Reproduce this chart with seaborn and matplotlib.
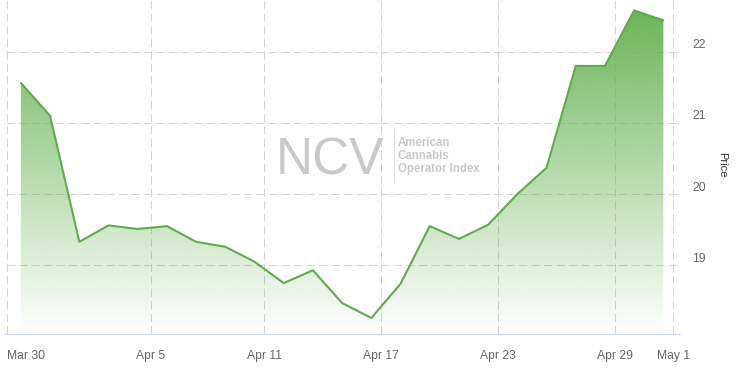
import numpy as np
import pandas as pd
import matplotlib
matplotlib.use("Agg")
import matplotlib.pyplot as plt
import seaborn as sns
from matplotlib.colors import to_rgb
from matplotlib.transforms import ScaledTranslation

# ---------------- data ----------------
dates = ["2020-03-30", "2020-03-31", "2020-04-01", "2020-04-02", "2020-04-03",
         "2020-04-06", "2020-04-07", "2020-04-08", "2020-04-09",
         "2020-04-13", "2020-04-14", "2020-04-15", "2020-04-16", "2020-04-17",
         "2020-04-20", "2020-04-21", "2020-04-22", "2020-04-23", "2020-04-24",
         "2020-04-27", "2020-04-28", "2020-04-29", "2020-04-30"]
prices = [21.56, 21.10, 19.33, 19.56, 19.51,
          19.55, 19.33, 19.26, 19.05,
          18.75, 18.93, 18.47, 18.26, 18.74,
          19.55, 19.37, 19.57, 20.00, 20.37,
          21.80, 21.80, 22.58, 22.44]
tick_dates = ["2020-03-30", "2020-04-05", "2020-04-11", "2020-04-17",
              "2020-04-23", "2020-04-29", "2020-05-01"]
tick_labels = ["Mar 30", "Apr 5", "Apr 11", "Apr 17", "Apr 23", "Apr 29", "May 1"]
y_ticks = [19, 20, 21, 22]

# ---------------- style ----------------
sns.set_style("white")
plt.rcParams["font.family"] = ["Liberation Sans", "DejaVu Sans"]

W, H, DPI = 743, 370, 100
fig = plt.figure(figsize=(W / DPI, H / DPI), dpi=DPI)
# plot area in pixels: left 6, right 680, top 0, bottom 334
ax = fig.add_axes([6 / W, (H - 334) / H, (680 - 6) / W, 334 / H])

# ordinal x-axis (trading days only), points stamped at 16:00
idx = np.arange(len(dates))
pt_t = (pd.to_datetime(dates) + pd.Timedelta(hours=16)).values.astype("datetime64[h]").astype(float) / 24.0
tk_t = pd.to_datetime(tick_dates).values.astype("datetime64[h]").astype(float) / 24.0
mean_step = (pt_t[-1] - pt_t[0]) / (len(pt_t) - 1)
tick_pos = np.interp(tk_t, pt_t, idx)
tick_pos = np.where(tk_t < pt_t[0], (tk_t - pt_t[0]) / mean_step, tick_pos)
tick_pos = np.where(tk_t > pt_t[-1], idx[-1] + (tk_t - pt_t[-1]) / 1.0, tick_pos)

df = pd.DataFrame({"i": idx, "Price": prices})

ymin, ymax = 18.035, 22.726
xmin, xmax = -0.51, 22.57

line_color = "#62aa50"
fill_color = "#6bb558"

# gradient area
poly = ax.fill_between(df["i"], df["Price"], ymin, color="none", lw=0)
top = max(prices)
grad = np.zeros((256, 1, 4))
grad[..., :3] = to_rgb(fill_color)
grad[:, 0, 3] = np.linspace(0.0, 1.0, 256)
im = ax.imshow(grad, extent=[xmin, xmax, ymin, top], origin="lower",
               aspect="auto", zorder=1, interpolation="bilinear")
im.set_clip_path(poly.get_paths()[0], transform=ax.transData)

sns.lineplot(data=df, x="i", y="Price", ax=ax, color=line_color, lw=1.5, zorder=3)

ax.set_xlim(xmin, xmax)
ax.set_ylim(ymin, ymax)
ax.set_xlabel("")
ax.set_ylabel("")

# grids
ax.set_xticks(tick_pos)
ax.set_xticklabels(tick_labels)
ax.set_yticks(y_ticks)
ax.set_yticklabels([str(v) for v in y_ticks])
ax.grid(True, color="#d4d4d4", lw=0.75, linestyle=(0, (8, 4)), zorder=0)
ax.set_axisbelow(True)

for s in ["top", "left", "right"]:
    ax.spines[s].set_visible(False)
ax.spines["bottom"].set_color("#ccd6eb")
ax.spines["bottom"].set_linewidth(0.8)

ax.tick_params(axis="x", length=7.2, width=0.75, color="#ccd6eb",
               labelcolor="#666666", labelsize=8.7, pad=4.5)
ax.get_xticklabels()[0].set_horizontalalignment("left")
ax.yaxis.tick_right()
ax.tick_params(axis="y", length=0, labelcolor="#666666", labelsize=8.7, pad=9)
for lab in ax.get_yticklabels():
    lab.set_transform(lab.get_transform() + ScaledTranslation(0, 8 / DPI, fig.dpi_scale_trans))
    lab.set_horizontalalignment("left")

# axis title
fig.text(722 / W, 1 - 165 / H, "Price", rotation=270, ha="center", va="center",
         fontsize=8, color="#333333")

# watermark
wm = "#c9c9c9"
fig.text(276 / W, 1 - 174 / H, "NCV", fontsize=37, color=wm, ha="left",
         va="baseline")
fig.add_artist(plt.Line2D([394 / W, 394 / W], [1 - 128 / H, 1 - 182 / H],
                          color="#dddddd", lw=0.8))
for k, txt in enumerate(["American", "Cannabis", "Operator Index"]):
    fig.text(398 / W, 1 - (146 + 13 * k) / H, txt, fontsize=8.3, color=wm,
             fontweight="bold", ha="left", va="baseline")

fig.savefig("out.png", dpi=DPI)
